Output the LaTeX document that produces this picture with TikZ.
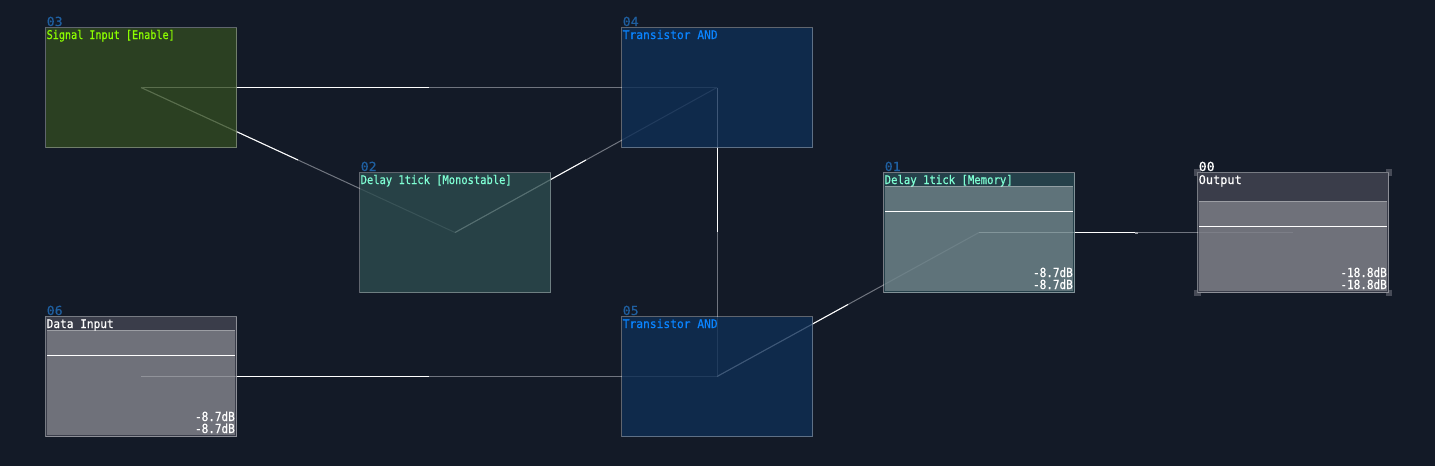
\documentclass[tikz,border=0pt]{standalone}
\usepackage{fontspec}
\usepackage{graphicx}
\usetikzlibrary{calc,backgrounds}

\newfontfamily\titlefont[FakeBold=0.5]{DejaVu Sans Mono}
\newfontfamily\numfont[FakeStretch=1.06,FakeBold=0.5]{DejaVu Sans Mono}
\newfontfamily\valfont[FakeStretch=0.88,FakeBold=0.7]{DejaVu Sans Mono}

\definecolor{bgdark}{RGB}{19,26,39}
\definecolor{wirecold}{RGB}{112,117,127}
\definecolor{markgray}{RGB}{71,75,87}
\definecolor{numblue}{RGB}{31,95,160}
\definecolor{tintgreen}{RGB}{49,74,33}
\definecolor{tintblue}{RGB}{14,46,85}
\definecolor{tintteal}{RGB}{44,75,78}
\definecolor{tintgray}{RGB}{68,70,83}
\definecolor{tintmem}{RGB}{42,74,83}
\definecolor{textlime}{RGB}{140,255,0}
\definecolor{textblue}{RGB}{10,132,255}
\definecolor{textaqua}{RGB}{127,255,212}

\begin{document}
\begin{tikzpicture}[x=1pt,y=-1pt]
        \tikzstyle{unitbox}=[draw=white,draw opacity=.33,fill opacity=.8,line width=1pt,inner sep=0pt,outer sep=0pt,minimum width=191pt,minimum height=120pt]
        \tikzstyle{numtext}=[inner sep=0pt,anchor=base west,font=\numfont\fontsize{12.5}{12}\selectfont]
        \tikzstyle{titletext}=[inner sep=0pt,anchor=base west,font=\titlefont\fontsize{12}{12}\selectfont]
        \tikzstyle{valtext}=[inner sep=0pt,anchor=base east,text=white,font=\valfont\fontsize{12.5}{12}\selectfont]
        \tikzstyle{meterbody}=[fill=white,fill opacity=.27]
        \tikzstyle{meterline}=[line width=1pt]
        \tikzstyle{selmark}=[draw=markgray,line width=3pt]

        % units
        \foreach \uname/\ux/\uy/\tint/\numcol/\titlecol/\tw/\ttl in {
            03/141/87.5/tintgreen/numblue/textlime/128/Signal Input [Enable],
            04/717/87.5/tintblue/numblue/textblue/95/Transistor AND,
            02/455/232.5/tintteal/numblue/textaqua/151/Delay 1tick [Monostable],
            06/141/376.5/tintgray/numblue/white/67/Data Input,
            05/717/376.5/tintblue/numblue/textblue/95/Transistor AND,
            01/979/232.5/tintmem/numblue/textaqua/128/Delay 1tick [Memory],
            00/1293/232.5/tintgray/white/white/43/Output} {
            \node [unitbox,fill=\tint] (u\uname) at (\ux,\uy) {};
            \node [numtext,text=\numcol] (u\uname_num) at ($(u\uname.north west)+(1,-1.5)$) {\uname};
            \node [titletext,text=\titlecol] (u\uname_title) at ($(u\uname.north west)+(1,11.5)$) {\resizebox{\tw pt}{\height}{\ttl}};
        };

        % meters
        \foreach \uname/\mtop/\mval in {06/14/-8.7dB, 01/14/-8.7dB, 00/29/-18.8dB} {
            \draw [meterline,draw=white,draw opacity=.15] (u\uname.north west) rectangle (u\uname.south east);
            \fill [meterbody] ($(u\uname.north west)+(1.5,\mtop)$) rectangle ($(u\uname.south east)+(-1.5,-1.5)$);
            \draw [meterline,draw=white,draw opacity=.5] ($(u\uname.north west)+(1.5,\mtop)$) -- ($(u\uname.north east)+(-1.5,\mtop)$);
            \draw [meterline,draw=white] ($(u\uname.north west)+(1.5,\mtop+25)$) -- ($(u\uname.north east)+(-1.5,\mtop+25)$);
            \node [valtext] (u\uname_valtop) at ($(u\uname.south east)+(-1.5,-15.5)$) {\mval};
            \node [valtext] (u\uname_valbot) at ($(u\uname.south east)+(-1.5,-3.5)$) {\mval};
        };

        \begin{pgfonlayer}{background}
        \fill [bgdark] (0,0) rectangle (1435,466);

        % wires, hot half from the sender
        \foreach \from/\to in {03/04, 03/02, 02/04, 04/05, 06/05, 05/01, 01/00} {
            \draw [wirecold,line width=1pt] (u\from.center) -- (u\to.center);
            \draw [white,line width=1pt] (u\from.center) -- ($(u\from.center)!.5!(u\to.center)$);
        };
        \coordinate (nub) at ($(u01.center)!.5!(u00.center)$);
        \fill [wirecold!70!white] ($(nub)+(-1,-1)$) rectangle ($(nub)+(1.5,1)$);

        % selection marks on the output
        \foreach \corner/\sx/\sy in {north west/-1/-1, north east/1/-1, south west/-1/1, south east/1/1} {
            \draw [selmark] ($(u00.\corner)+(\sx*2,-\sy*3)$) -- ($(u00.\corner)+(\sx*2,\sy*2)$) -- ($(u00.\corner)+(-\sx*3,\sy*2)$);
        };
        \end{pgfonlayer}
\end{tikzpicture}
\end{document}
